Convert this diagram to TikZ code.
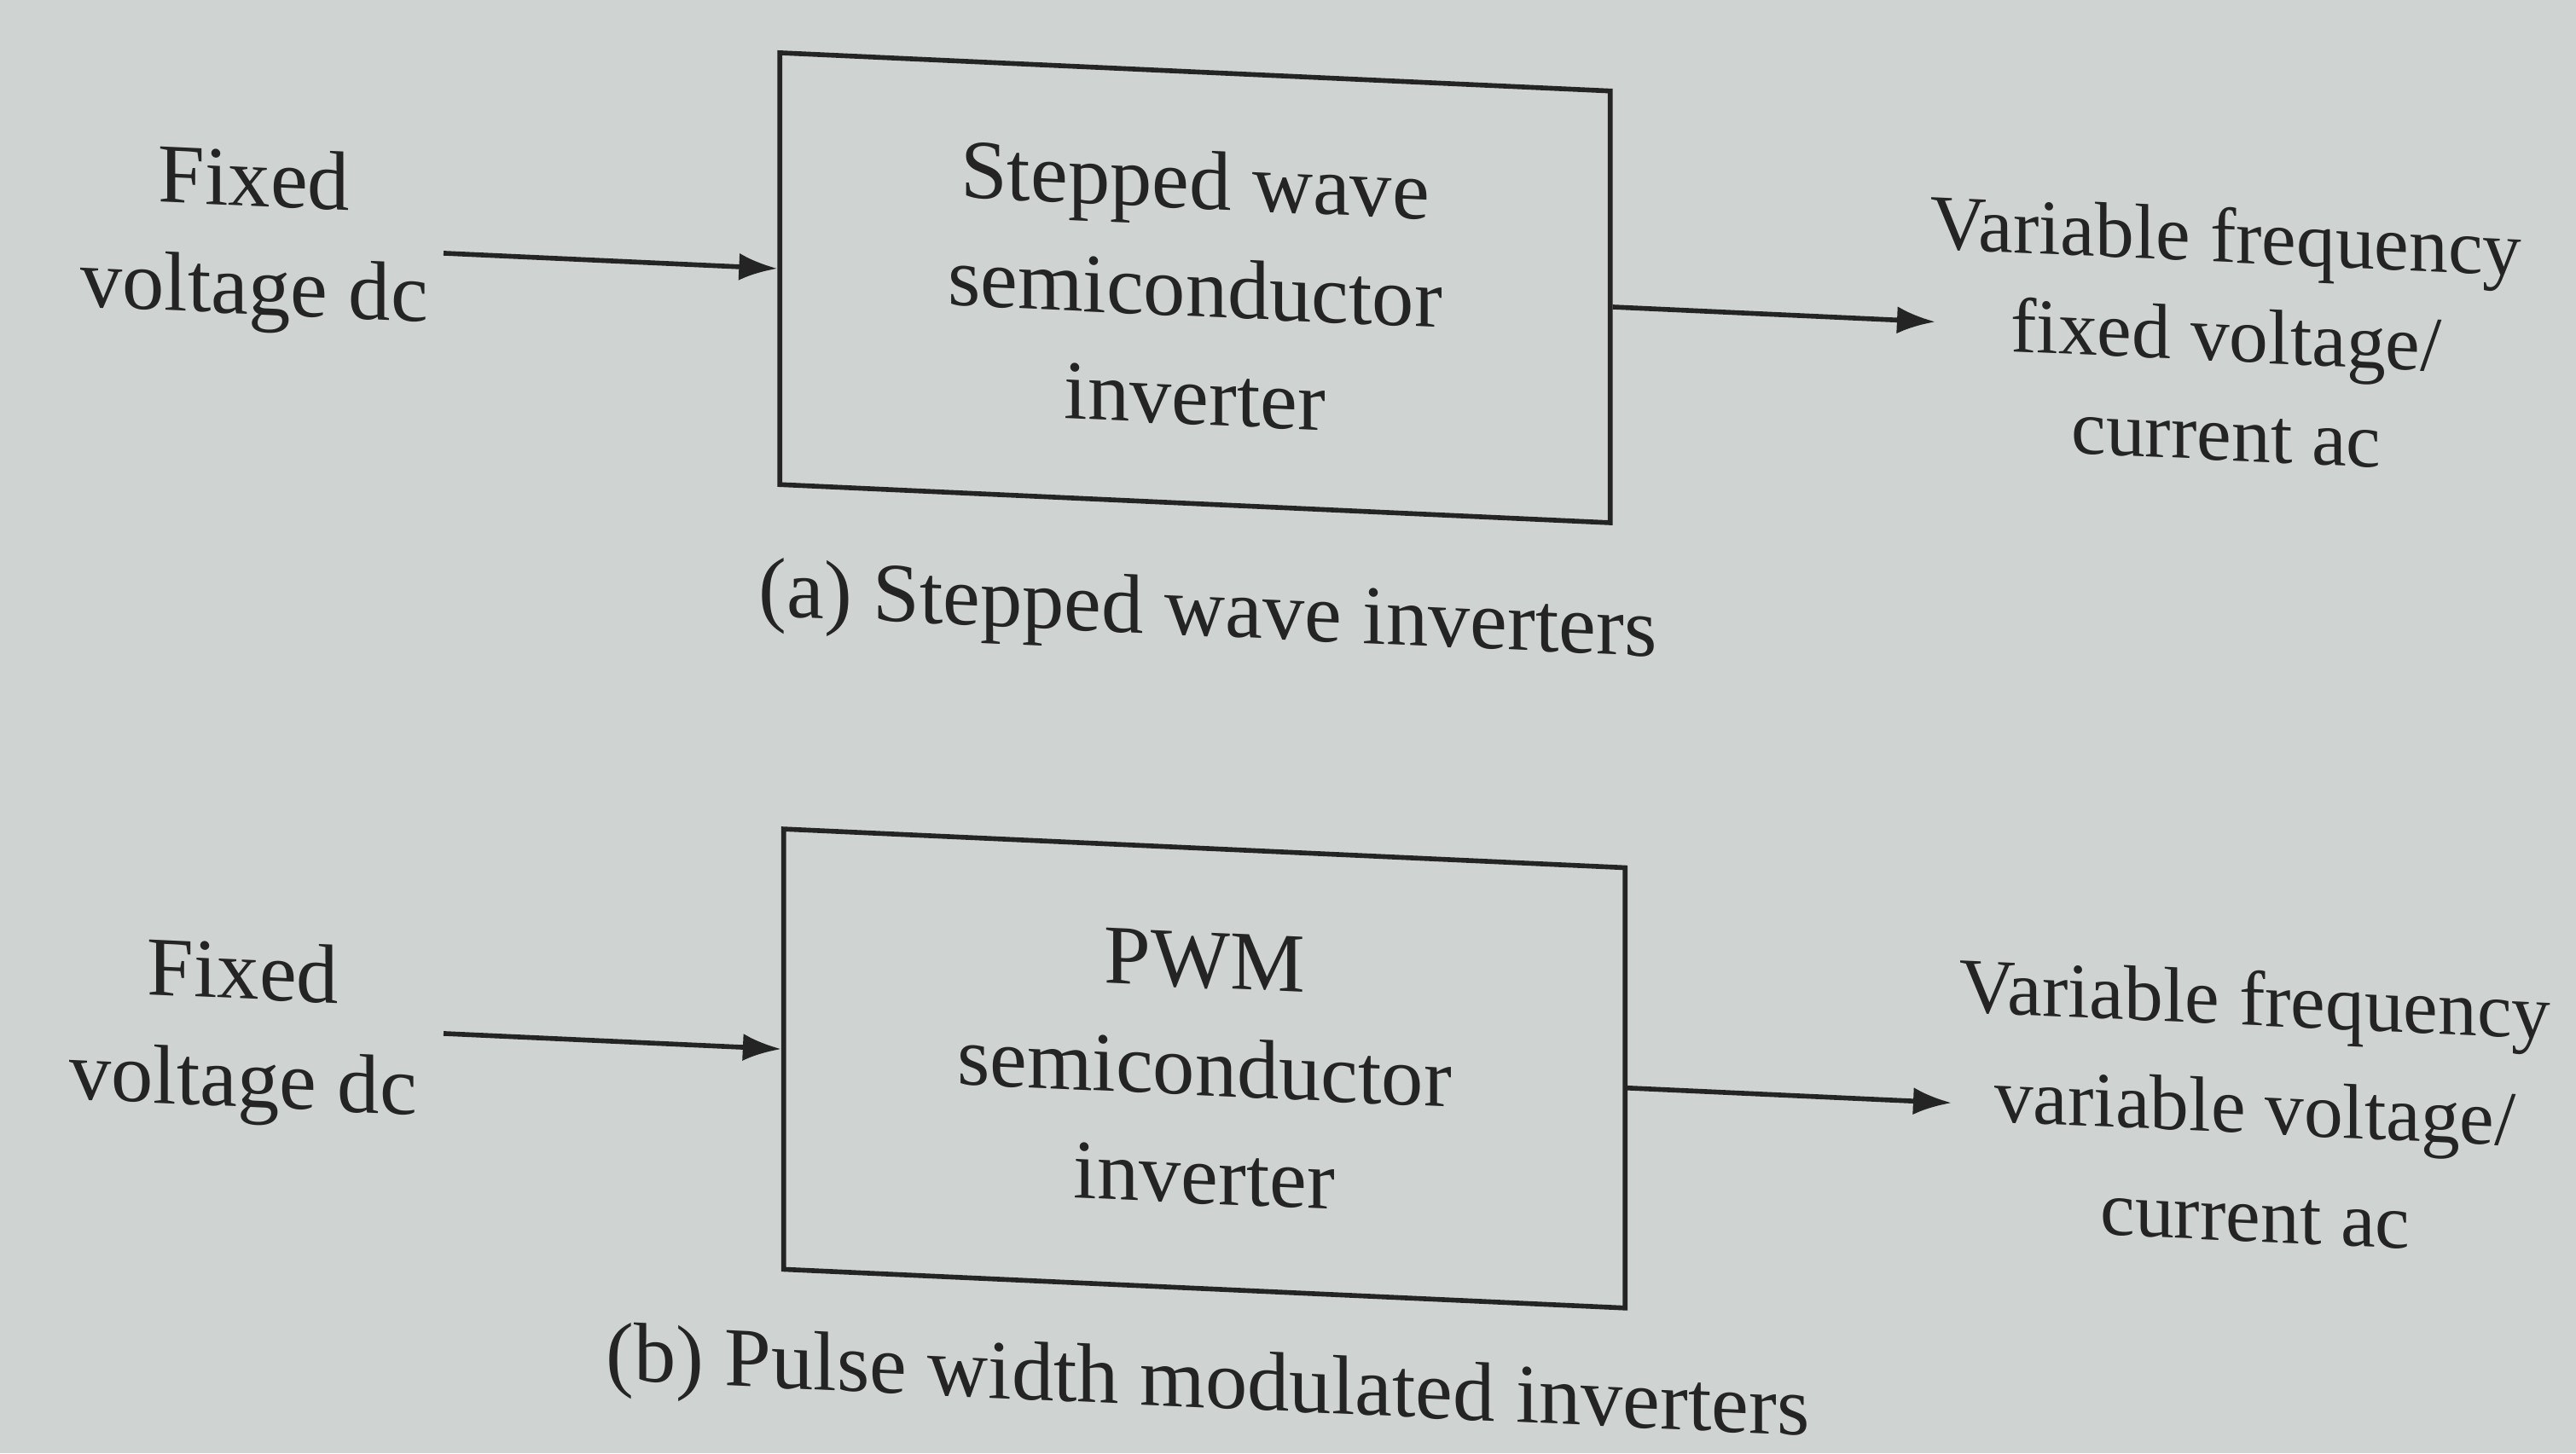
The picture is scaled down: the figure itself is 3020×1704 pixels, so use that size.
\documentclass[tikz,border=0pt]{standalone}
\usepackage{fontspec}
\setmainfont{Liberation Serif}
\usetikzlibrary{arrows.meta}
\definecolor{paper}{HTML}{CFD3D1}
\definecolor{ink}{HTML}{242424}
\begin{document}
\begin{tikzpicture}[x=0.01cm,y=-0.01cm,
  txt/.style={text=ink,font=\fontsize{28}{36}\selectfont,align=center,inner sep=0pt},
  rtxt/.style={text=ink,font=\fontsize{26}{33}\selectfont,align=center,inner sep=0pt},
  blk/.style={draw=ink,line width=1.6pt,txt},
  arr/.style={draw=ink,line width=1.6pt,-{Latex[length=4.5mm,width=3.2mm]}}]
\fill[paper] (0,0) rectangle (3020,1704);
\begin{scope}[yslant=-0.046, transform shape]
  % (a)
  \node[blk,minimum width=9.73cm,minimum height=5.06cm] (boxA) at (1401,273)
    {Stepped wave\\semiconductor\\inverter};
  \node[txt] (inTxtA) at (298,268) {Fixed\\voltage dc};
  \node[rtxt] (outTxtA) at (2610,272) {Variable frequency\\fixed voltage/\\current ac};
  \coordinate (inA) at (520,273);
  \coordinate (outA) at (2269,273);
  \draw[arr] (inA) -- (boxA);
  \draw[arr] (boxA) -- (outA);
  \node[txt] (capA) at (1416,657) {(a) Stepped wave inverters};
  % (b)
  \node[blk,minimum width=9.86cm,minimum height=5.16cm] (boxB) at (1412,1188)
    {PWM\\semiconductor\\inverter};
  \node[txt] (inTxtB) at (285,1198) {Fixed\\voltage dc};
  \node[rtxt,font=\fontsize{26}{36}\selectfont] (outTxtB) at (2644,1176) {Variable frequency\\variable voltage/\\current ac};
  \coordinate (inB) at (520,1188);
  \coordinate (outB) at (2288,1188);
  \draw[arr] (inB) -- (boxB);
  \draw[arr] (boxB) -- (outB);
  \node[txt] (capB) at (1416,1562) {(b) Pulse width modulated inverters};
\end{scope}
\end{tikzpicture}
\end{document}
